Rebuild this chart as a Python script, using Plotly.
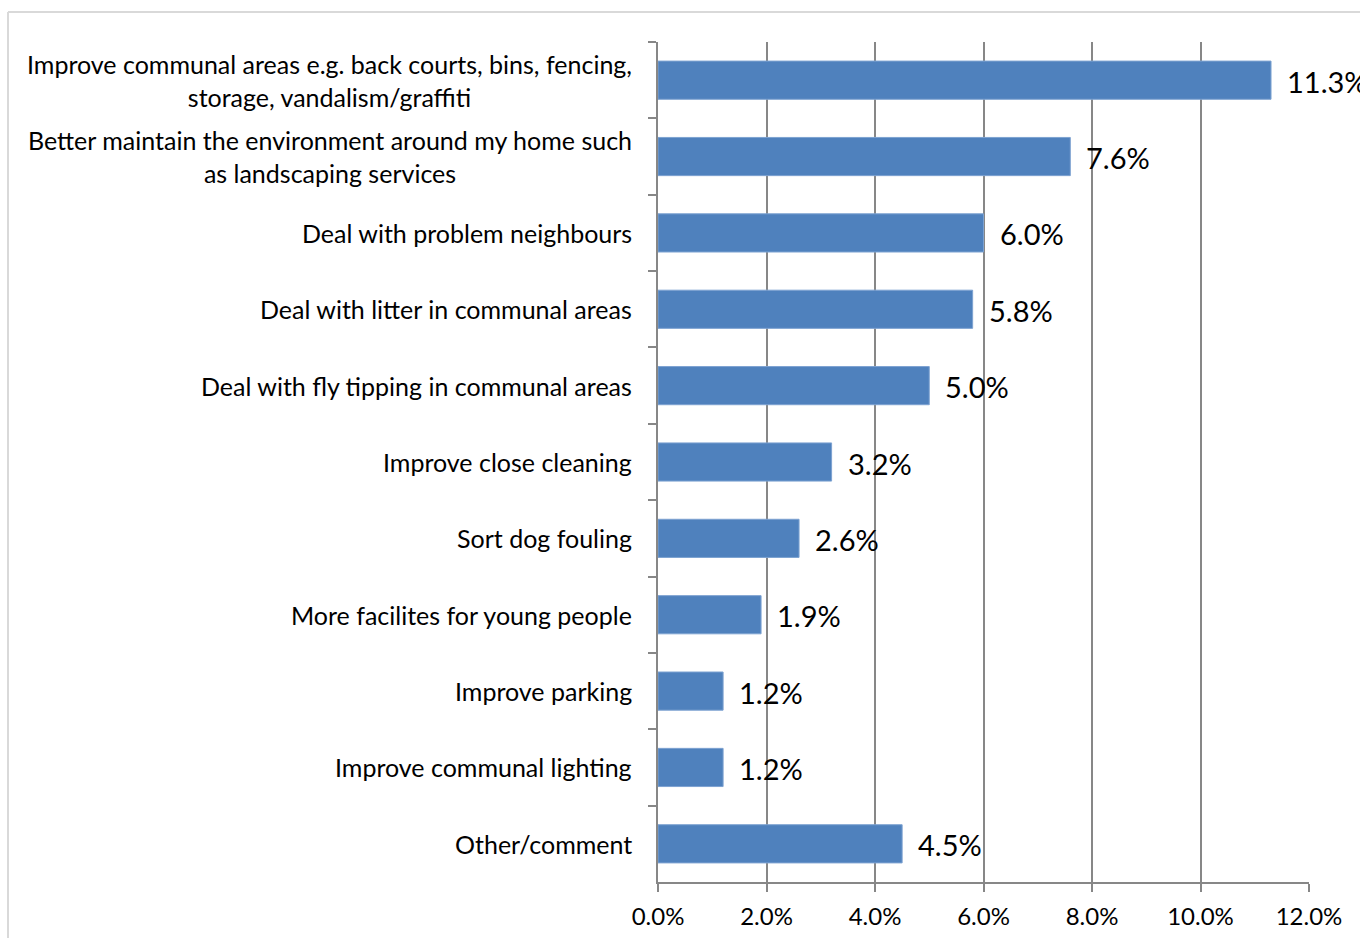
import plotly.graph_objects as go

# Survey responses: what would most improve the area around the home
categories = [
    "Improve communal areas e.g. back courts, bins, fencing,<br>storage, vandalism/graffiti",
    "Better maintain the environment around my home such<br>as landscaping services",
    "Deal with problem neighbours",
    "Deal with litter in communal areas",
    "Deal with fly tipping in communal areas",
    "Improve close cleaning",
    "Sort dog fouling",
    "More facilites for young people",
    "Improve parking",
    "Improve communal lighting",
    "Other/comment",
]
keys = [f"c{i}" for i in range(len(categories))]
values = [11.3, 7.6, 6.0, 5.8, 5.0, 3.2, 2.6, 1.9, 1.2, 1.2, 4.5]
x_ticks = [0, 2, 4, 6, 8, 10, 12]
x_tick_labels = ["0.0%", "2.0%", "4.0%", "6.0%", "8.0%", "10.0%", "12.0%"]

FONT = "Lato"
GRID = "#878787"

fig = go.Figure(
    go.Bar(
        x=values,
        y=keys,
        orientation="h",
        width=0.5,
        marker=dict(color="#4F81BD", line=dict(color="#7DA2D1", width=1)),
        hoverinfo="skip",
    )
)

annotations = []
# Category labels, centred line by line and right-aligned to the axis
for k, label in zip(keys, categories):
    annotations.append(dict(
        x=0, y=k, xref="x", yref="y", text=label, showarrow=False,
        xanchor="right", yanchor="middle", align="center", xshift=-24,
        font=dict(family=FONT, size=25, color="#000000"),
    ))
# Value labels just past the end of each bar
for k, v in zip(keys, values):
    annotations.append(dict(
        x=v, y=k, xref="x", yref="y", text=f"{v:.1f}%", showarrow=False,
        xanchor="left", yanchor="middle", xshift=14, yshift=-1,
        font=dict(family=FONT, size=29, color="#000000"),
    ))

fig.update_layout(
    width=1360,
    height=938,
    margin=dict(l=658, r=51, t=42, b=56, autoexpand=False),
    paper_bgcolor="white",
    plot_bgcolor="white",
    showlegend=False,
    bargap=0.5,
    annotations=annotations,
    shapes=[
        # light chart-area frame (left and top edges)
        dict(type="line", xref="paper", yref="paper",
             x0=(8 - 658) / 651, x1=(1400 - 658) / 651,
             y0=(938 - 12 - 56) / 840, y1=(938 - 12 - 56) / 840,
             line=dict(color="#D9D9D9", width=2)),
        dict(type="line", xref="paper", yref="paper",
             x0=(8 - 658) / 651, x1=(8 - 658) / 651,
             y0=(938 - 12 - 56) / 840, y1=-1,
             line=dict(color="#D9D9D9", width=2)),
    ],
    xaxis=dict(
        range=[0, 12],
        tickvals=x_ticks,
        ticktext=x_tick_labels,
        automargin=False,
        showgrid=True,
        gridcolor=GRID,
        gridwidth=1.5,
        zeroline=False,
        showline=True,
        linecolor=GRID,
        linewidth=1.5,
        ticks="outside",
        ticklen=8,
        tickcolor=GRID,
        tickwidth=1.5,
        tickfont=dict(family=FONT, size=24, color="#000000"),
        ticklabelstandoff=4,
        fixedrange=True,
    ),
    yaxis=dict(
        categoryorder="array",
        categoryarray=keys,
        autorange="reversed",
        automargin=False,
        showticklabels=False,
        showgrid=False,
        zeroline=False,
        showline=True,
        linecolor=GRID,
        linewidth=1.5,
        ticks="outside",
        tickson="boundaries",
        ticklen=8,
        tickcolor=GRID,
        tickwidth=1.5,
        fixedrange=True,
    ),
)

fig.write_html("out.html")
